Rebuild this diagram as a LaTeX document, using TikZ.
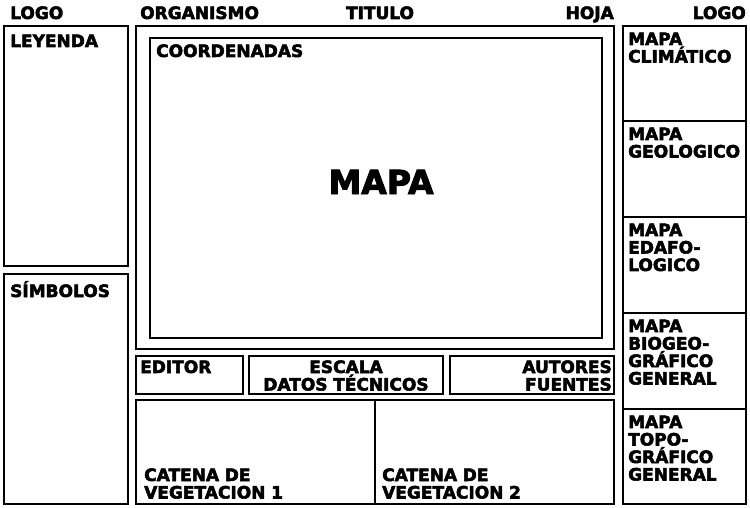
\documentclass[tikz,border=0pt]{standalone}
\usepackage{fontspec}
\setmainfont{DejaVu Sans}
\newfontfamily\heavy{DejaVu Sans Bold}[FakeBold=3]
\begin{document}
\begin{tikzpicture}[x=1pt,y=-1pt,
  frame/.style={draw=black,line width=2.6pt},
  lbl/.style={font=\fontsize{17}{17.5}\selectfont\heavy,inner sep=0pt,text width=#1},
  lbl/.default=200pt]
\useasboundingbox (0,0) rectangle (750,508);
% frames
\draw[frame] (4,26) rectangle (128,266);
\draw[frame] (4,274) rectangle (128,504);
\draw[frame] (136,26) rectangle (614,349);
\draw[frame] (150,38) rectangle (602,338);
\draw[frame] (136,356) rectangle (243,394);
\draw[frame] (249,356) rectangle (443,394);
\draw[frame] (450,356) rectangle (614,394);
\draw[frame] (136,400) rectangle (614,504);
\draw[frame] (375,400) -- (375,504);
\draw[frame] (623,26) rectangle (746,504);
\draw[frame] (623,121) -- (746,121);
\draw[frame] (623,217) -- (746,217);
\draw[frame] (623,313) -- (746,313);
\draw[frame] (623,409) -- (746,409);
% top labels
\node[lbl=80pt,anchor=base west,align=left] (logo1) at (10,19) {LOGO};
\node[lbl=120pt,anchor=base west,align=left] (org) at (140,19) {ORGANISMO};
\node[lbl=120pt,anchor=base,align=center] (tit) at (380,19) {TITULO};
\node[lbl=80pt,anchor=base east,align=right] (hoja) at (614,19) {HOJA};
\node[lbl=80pt,anchor=base east,align=right] (logo2) at (746,19) {LOGO};
% left
\node[lbl=115pt,anchor=base west,align=left] (ley) at (10,47) {LEYENDA};
\node[lbl=115pt,anchor=base west,align=left] (sim) at (10,297) {SÍMBOLOS};
% center
\node[lbl=200pt,anchor=base west,align=left] (coord) at (156,57) {COORDENADAS};
\node[font=\fontsize{33}{33}\selectfont\heavy,inner sep=0pt,anchor=base] (mapa) at (381,194) {MAPA};
\node[lbl=100pt,anchor=base west,align=left] (ed) at (140,373) {EDITOR};
\node[lbl=190pt,anchor=base,align=center] (esc) at (346,373) {ESCALA\\DATOS TÉCNICOS};
\node[lbl=160pt,anchor=base east,align=right] (aut) at (612,373) {AUTORES\\FUENTES};
\node[lbl=220pt,anchor=base west,align=left] (cat1) at (144,481) {CATENA DE\\VEGETACION 1};
\node[lbl=220pt,anchor=base west,align=left] (cat2) at (382,481) {CATENA DE\\VEGETACION 2};
% right
\node[lbl=118pt,anchor=base west,align=left] (m1) at (628,45) {MAPA\\CLIMÁTICO};
\node[lbl=118pt,anchor=base west,align=left] (m2) at (628,140) {MAPA\\GEOLOGICO};
\node[lbl=118pt,anchor=base west,align=left] (m3) at (628,236) {MAPA\\EDAFO-\\LOGICO};
\node[lbl=118pt,anchor=base west,align=left] (m4) at (628,332) {MAPA\\BIOGEO-\\GRÁFICO\\GENERAL};
\node[lbl=118pt,anchor=base west,align=left] (m5) at (628,428) {MAPA\\TOPO-\\GRÁFICO\\GENERAL};
\end{tikzpicture}
\end{document}
